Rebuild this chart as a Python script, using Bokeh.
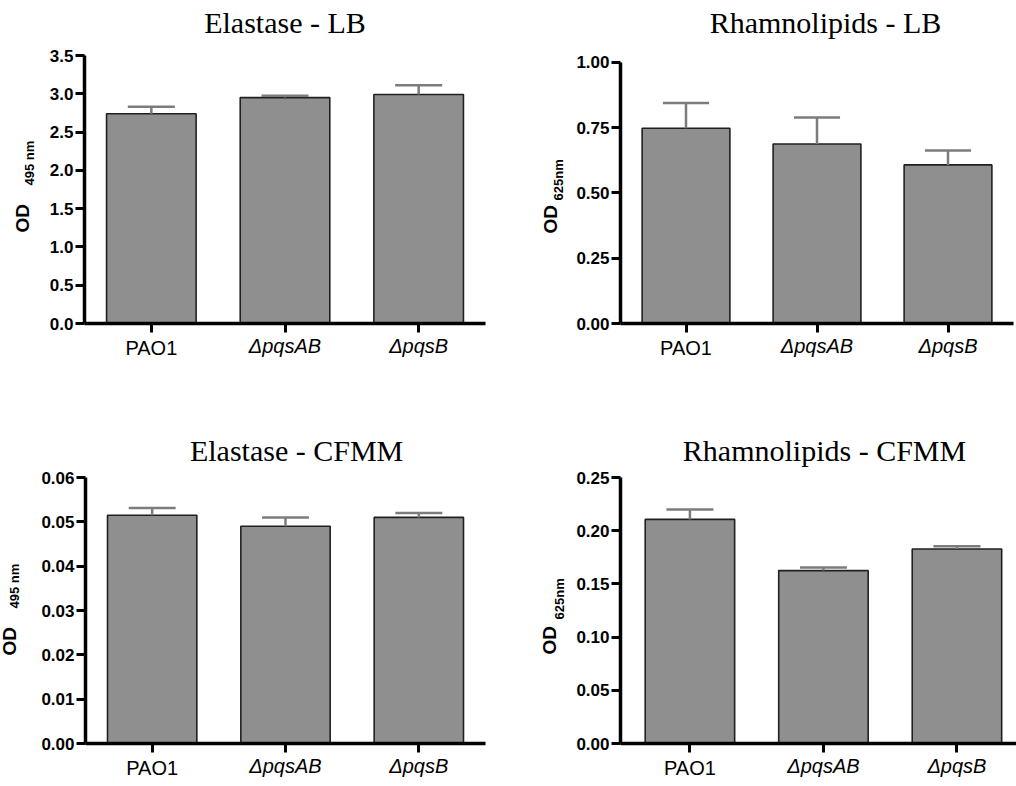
import numpy as np
from bokeh.plotting import figure
from bokeh.models import Range1d, FixedTicker, Label, PrintfTickFormatter, LinearAxis
from bokeh.layouts import column, row
from bokeh.embed import file_html
from bokeh.resources import INLINE

# ---------------- data ----------------
strains = ["PAO1", "\u0394pqsAB", "\u0394pqsB"]
strain_italic = [False, True, True]

elastase_lb = [2.74, 2.95, 2.99]
elastase_lb_err = [0.09, 0.025, 0.12]
elastase_lb_ticks = [0.0, 0.5, 1.0, 1.5, 2.0, 2.5, 3.0, 3.5]

rhamno_lb = [0.747, 0.687, 0.607]
rhamno_lb_err = [0.097, 0.101, 0.055]
rhamno_lb_ticks = [0.0, 0.25, 0.50, 0.75, 1.00]

elastase_cfmm = [0.0515, 0.049, 0.051]
elastase_cfmm_err = [0.0016, 0.002, 0.001]
elastase_cfmm_ticks = [0.0, 0.01, 0.02, 0.03, 0.04, 0.05, 0.06]

rhamno_cfmm = [0.2106, 0.1625, 0.1828]
rhamno_cfmm_err = [0.0094, 0.0028, 0.0025]
rhamno_cfmm_ticks = [0.0, 0.05, 0.10, 0.15, 0.20, 0.25]

titles = ["Elastase - LB", "Rhamnolipids - LB", "Elastase - CFMM", "Rhamnolipids - CFMM"]
ylabel_main = "OD"
ylabel_subs = ["495 nm", "625nm", "495 nm", "625nm"]

BAR_FILL = "#8f8f8f"
BAR_LINE = "#202020"
ERR_COLOR = "#7c7c7c"
SANS = "Liberation Sans"
SERIF = "Liberation Serif"
W, H = 508, 393


def style_axis(ax):
    ax.axis_line_width = 3.5
    ax.axis_line_color = "black"
    ax.major_tick_line_width = 3
    ax.major_tick_line_color = "black"
    ax.major_tick_out = 9
    ax.major_tick_in = 0
    ax.minor_tick_out = 0
    ax.minor_tick_in = 0


def make_panel(title, vals, errs, ticks, fmt, sub, borders, xr, top_gap,
               title_pos, od_pos, sub_pos):
    left, right, top, bottom = borders
    frame_h = H - top - bottom
    y_end = ticks[0] + (ticks[-1] - ticks[0]) * frame_h / (frame_h - top_gap)
    p = figure(width=W, height=H, output_backend="svg", toolbar_location=None,
               x_range=Range1d(*xr), y_range=Range1d(ticks[0], y_end),
               min_border_left=left, min_border_right=right,
               min_border_top=top, min_border_bottom=bottom)
    p.title.visible = False
    p.outline_line_color = None
    p.xgrid.visible = False
    p.ygrid.visible = False
    p.background_fill_color = "white"
    p.border_fill_color = "white"

    xs = [i + 0.5 for i in range(len(strains))]
    tops = [v + e for v, e in zip(vals, errs)]

    p.vbar(x=xs, top=vals, bottom=0, width=0.67, fill_color=BAR_FILL,
           line_color=BAR_LINE, line_width=1.6)
    p.segment(x0=xs, y0=vals, x1=xs, y1=tops, line_color=ERR_COLOR, line_width=2.5)
    p.segment(x0=[x - 0.176 for x in xs], y0=tops, x1=[x + 0.176 for x in xs], y1=tops,
              line_color=ERR_COLOR, line_width=2.5)

    style_axis(p.xaxis[0])
    style_axis(p.yaxis[0])

    p.yaxis.ticker = FixedTicker(ticks=ticks)
    p.yaxis.bounds = (ticks[0], ticks[-1])
    p.yaxis.formatter = PrintfTickFormatter(format=fmt)
    p.yaxis.major_label_text_font = SANS
    p.yaxis.major_label_text_font_style = "bold"
    p.yaxis.major_label_text_font_size = "17px"
    p.yaxis.major_label_text_color = "black"
    p.yaxis.major_label_standoff = 2

    # main x axis: italic strain names
    p.xaxis.ticker = FixedTicker(ticks=xs)
    p.xaxis.major_label_overrides = {x: (n if it else "") for x, n, it in zip(xs, strains, strain_italic)}
    p.xaxis.major_label_text_font = SANS
    p.xaxis.major_label_text_font_style = "italic"
    p.xaxis.major_label_text_font_size = "20px"
    p.xaxis.major_label_text_color = "black"
    p.xaxis.major_label_standoff = 2

    # second x axis overlaid on the first: upright strain names
    ax2 = LinearAxis(ticker=FixedTicker(ticks=xs),
                     major_label_overrides={x: ("" if it else n) for x, n, it in zip(xs, strains, strain_italic)},
                     axis_line_color=None, major_tick_line_color=None,
                     major_tick_out=0, major_tick_in=0, minor_tick_out=0, minor_tick_in=0,
                     major_label_standoff=-23, major_label_text_font=SANS,
                     major_label_text_font_size="20px", major_label_text_font_style="normal",
                     major_label_text_color="black")
    p.add_layout(ax2, "below")

    # panel title
    p.add_layout(Label(x=title_pos[0], y=title_pos[1], x_units="data", y_units="screen",
                       text=title, text_font=SERIF, text_font_size="30px",
                       text_font_style="normal", text_align="center",
                       text_baseline="alphabetic", text_color="black"), "above")

    # y axis label: OD with subscript wavelength
    p.add_layout(Label(x=od_pos[0], y=od_pos[1], x_units="screen", y_units="screen",
                       text=ylabel_main, angle=np.pi / 2, text_font=SANS,
                       text_font_style="bold", text_font_size="19px",
                       text_align="left", text_baseline="alphabetic", text_color="black"),
                 "left")
    p.add_layout(Label(x=sub_pos[0], y=sub_pos[1], x_units="screen", y_units="screen",
                       text=sub, angle=np.pi / 2, text_font=SANS,
                       text_font_style="bold", text_font_size="13px",
                       text_align="left", text_baseline="alphabetic", text_color="black"),
                 "left")
    return p


p1 = make_panel(titles[0], elastase_lb, elastase_lb_err, elastase_lb_ticks, "%.1f",
                ylabel_subs[0], (84, 23, 55, 70), (0, 3), 0,
                (1.5, 33.5), (-3, 91), (19.4, 138))
p2 = make_panel(titles[1], rhamno_lb, rhamno_lb_err, rhamno_lb_ticks, "%.2f",
                ylabel_subs[1], (112, 3, 55, 70), (0, 3), 6.7,
                (1.565, 33.5), (-2, 90), (21.2, 123))
p3 = make_panel(titles[2], elastase_cfmm, elastase_cfmm_err, elastase_cfmm_ticks, "%.2f",
                ylabel_subs[2], (85, 23, 84, 43), (0, 3), 0,
                (1.583, 27), (-8, 88), (11.5, 135))
p4 = make_panel(titles[3], rhamno_cfmm, rhamno_cfmm_err, rhamno_cfmm_ticks, "%.2f",
                ylabel_subs[3], (112, 0, 84, 43), (-0.02, 2.946), 0,
                (1.508, 27), (-3.3, 89), (21.5, 124))

layout = column(row(p1, p2), row(p3, p4))

open("out.html", "w").write(file_html(layout, INLINE))
